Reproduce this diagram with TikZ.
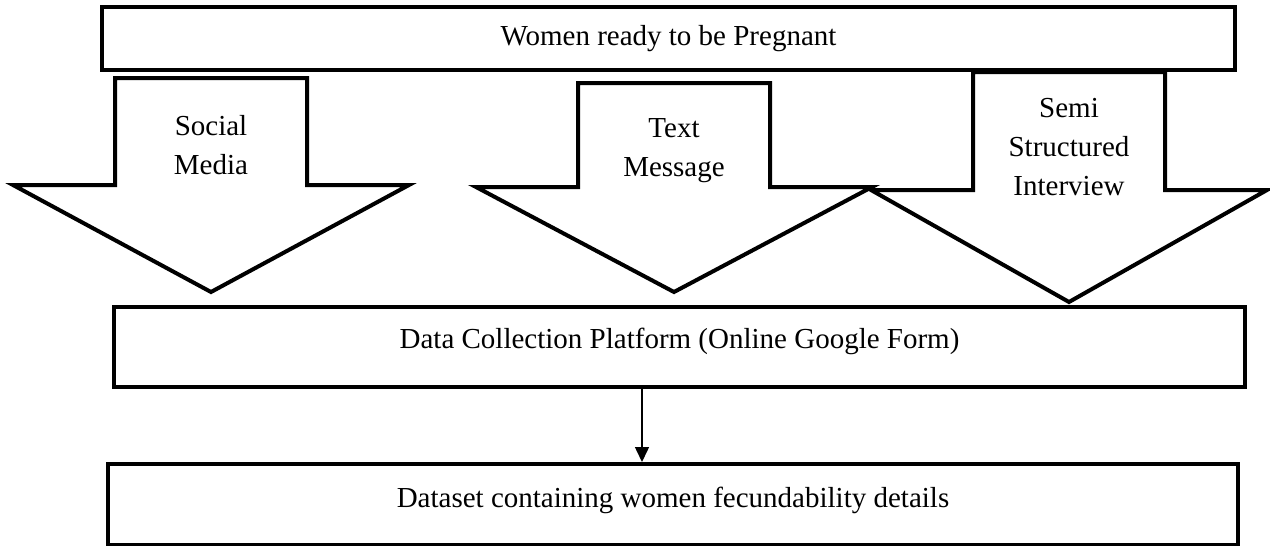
\documentclass[tikz,border=0pt]{standalone}
\usepackage{fontspec}
\setmainfont{Liberation Serif}
\usetikzlibrary{arrows.meta}

\tikzset{
    box/.style={draw, line width=4pt, minimum width=1131pt, minimum height=80pt,
        inner sep=0pt, font=\fontsize{29pt}{39pt}\selectfont},
    bigarrow/.style={draw, fill=white, line width=4pt, line join=miter},
    lbl/.style={anchor=north, align=center, inner sep=0pt,
        font=\fontsize{29pt}{39pt}\selectfont}
}

\begin{document}
\begin{tikzpicture}[x=1pt, y=-1pt]
        \useasboundingbox (0,0) rectangle (1270,546);

        \node[box, minimum width=1133pt, minimum height=63pt] (women) at (668.5,38.5)
            {Women ready to be Pregnant};

        \foreach \cx/\ya/\yb/\yc/\ly/\nm/\txt in {
            211/78/185/292/115/social/{Social\\Media},
            674/83/187/292/118/message/{Text\\Message},
            1069/72/190/302/98/interview/{Semi\\Structured\\Interview}}
        {
            \draw[bigarrow] (\cx-96,\ya) -- (\cx+96,\ya) -- (\cx+96,\yb) -- (\cx+198,\yb)
                -- (\cx,\yc) -- (\cx-198,\yb) -- (\cx-96,\yb) -- cycle;
            \node[lbl] (\nm) at (\cx,\ly) {\txt};
        }
        ;

        \node[box, text height=20pt, text depth=18pt] (data) at (679.5,347)
            {Data Collection Platform (Online Google Form)};
        \node[box, minimum width=1130pt, minimum height=81pt, text height=20pt, text depth=15pt]
            (dataset) at (673,504.5) {Dataset containing women fecundability details};

        \draw[line width=1.5pt, -{Triangle[width=14pt,length=15pt]}]
            ([xshift=-37.5pt]data.south) -- ([xshift=-37.5pt]data.south |- dataset.north);
    \end{tikzpicture}
\end{document}
